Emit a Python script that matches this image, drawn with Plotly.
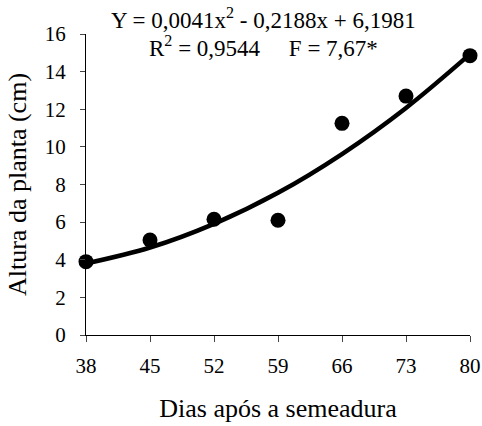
import plotly.graph_objects as go

dias = [38, 45, 52, 59, 66, 73, 80]
altura = [3.9, 5.05, 6.15, 6.1, 11.25, 12.7, 14.85]
# fitted curve values read at the ticks (Y = 0,0041x² - 0,2188x + 6,1981)
ajuste = [3.80, 4.65, 5.91, 7.56, 9.62, 12.07, 14.93]
x_ticks = [38, 45, 52, 59, 66, 73, 80]
y_ticks = [0, 2, 4, 6, 8, 10, 12, 14, 16]

font = "Times New Roman, Liberation Serif, DejaVu Serif, serif"

fig = go.Figure()
fig.add_trace(go.Scatter(x=dias, y=ajuste, mode="lines", line=dict(color="black", width=4.5, shape="spline"),
                         hoverinfo="skip", showlegend=False, cliponaxis=False))
fig.add_trace(go.Scatter(x=dias, y=altura, mode="markers", marker=dict(color="black", size=15),
                         showlegend=False, cliponaxis=False))

W, H = 482, 426
l, r, t, b = 86, 12, 34, 91

fig.update_layout(
    width=W, height=H,
    margin=dict(l=l, r=r, t=t, b=b),
    paper_bgcolor="white", plot_bgcolor="white",
    font=dict(family=font, size=21, color="black"),
    xaxis=dict(range=[38, 80], tickvals=x_ticks, ticks="outside", ticklen=6, tickwidth=1,
               showline=True, linecolor="black", linewidth=1, showgrid=False, zeroline=False,
               ticklabelstandoff=6, automargin=False,
               title=dict(text="Dias após a semeadura", font=dict(family=font, size=26), standoff=21),
               tickfont=dict(family=font, size=21)),
    yaxis=dict(range=[0, 16], tickvals=y_ticks, ticks="outside", ticklen=5, tickwidth=1,
               showline=True, linecolor="black", linewidth=1, showgrid=False, zeroline=False,
               ticklabelstandoff=10, automargin=False,
               title=dict(text="Altura da planta (cm)", font=dict(family=font, size=26), standoff=10),
               tickfont=dict(family=font, size=21)),
)

pw, ph = W - l - r, H - t - b
def px_to_paper(px, py):
    return (px - l) / pw, (H - b - py) / ph

a1 = px_to_paper(263, 18)
a2 = px_to_paper(263, 47)
fig.add_annotation(text="Y = 0,0041x<sup>2</sup> - 0,2188x + 6,1981", x=a1[0], y=a1[1], xref="paper", yref="paper",
                   showarrow=False, font=dict(family=font, size=23), xanchor="center", yanchor="middle")
fig.add_annotation(text="R<sup>2</sup> = 0,9544&nbsp;&nbsp;&nbsp;&nbsp;&nbsp;F = 7,67*", x=a2[0], y=a2[1],
                   xref="paper", yref="paper", showarrow=False, font=dict(family=font, size=23),
                   xanchor="center", yanchor="middle")

fig.write_html("out.html", config={"displayModeBar": False},
               post_script="document.body.style.margin='0';")
